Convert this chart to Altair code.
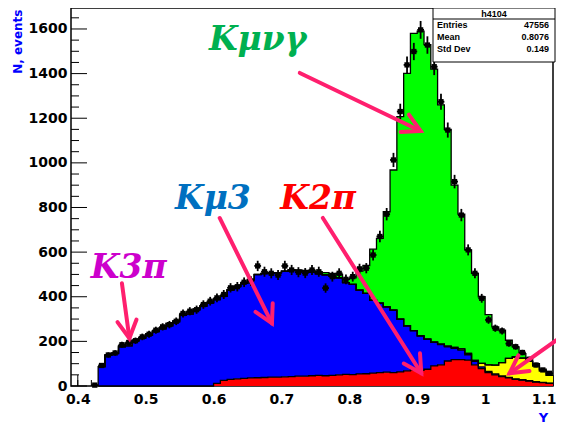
import math
import numpy as np
import pandas as pd
import altair as alt

# ---------------- data ----------------
bin_width = 0.01
bin_lo = [round(0.43 + 0.01 * i, 2) for i in range(67)]          # 0.43 ... 1.09
x_end = 1.10

red = [0] * 17 + [12, 25, 30, 32, 34, 36, 37, 38, 40, 40,
                  41, 42, 44, 44, 46, 48, 46, 48, 50, 52,
                  51, 54, 55, 58, 60, 62, 60, 63, 68, 72,
                  70, 75, 90, 95, 112, 118, 118, 116, 95, 78,
                  60, 50, 42, 36, 30, 26, 22, 18, 15, 12]
blue = [87, 137, 145, 175, 180, 201, 213, 227, 244, 256, 270, 288, 317, 322, 341, 357, 372,
        375, 377, 400, 414, 426, 440, 462, 466, 467, 467,
        473, 477, 473, 469, 463, 455, 452, 445, 435, 411,
        404, 376, 360, 327, 311, 293, 280, 237, 202, 176,
        155, 135, 106, 91, 64, 51, 43, 24, 15, 8,
        5, 4, 3, 3, 2, 2, 2, 1, 1, 1]
yellow = [0] * 50 + [2, 3, 4, 5, 6, 5, 15, 30, 40, 60, 85, 98, 97, 86, 71, 52, 35]
magenta = [0, 2, 3, 5, 12, 4, 5, 8, 4, 6, 10, 4, 5, 10, 4, 3, 3, 3, 3, 2, 2, 2, 2] + [1] * 10 + [0] * 34
green = [0] * 29 + [2, 4, 6, 8, 10, 12, 15, 15, 30, 85,
                    125, 228, 291, 426, 628, 907, 1131, 1332, 1365, 1320,
                    1224, 1072, 971, 727, 604, 464, 390, 299, 225, 171,
                    145, 81, 45, 20, 15, 10, 7, 7]

data_lo = [0.42] + bin_lo
data_counts = [4, 92, 139, 148, 185, 195, 203, 220, 232, 250, 265, 275, 290, 325, 335, 342, 365, 380,
               395, 410, 440, 445, 465, 470, 538, 512, 505, 497,
               538, 520, 510, 506, 520, 512, 439, 490, 505, 478,
               490, 525, 528, 587, 670, 770, 1013, 1230, 1439, 1499,
               1596, 1528, 1431, 1274, 1147, 916, 766, 610, 505, 393,
               296, 259, 247, 190, 176, 150, 120, 94, 72, 57]

series_names = ["K2pi", "Kmu3", "other", "K3pi", "Kmunugamma"]
series_colors = ["#ff0000", "#0000ff", "#ffff00", "#ff00ff", "#00ff00"]
series_vals = [red, blue, yellow, magenta, green]

# annotation labels (data coordinates)
label_text = ["Kμνγ", "Kμ3", "K2π", "K3π"]
label_x = [0.665, 0.599, 0.754, 0.475]
label_y = [1551, 838, 838, 529]
label_color = ["#00b050", "#0070c0", "#ff0000", "#cc00cc"]

# arrows (data coordinates): start -> tip
arrow_x0 = [0.727, 0.609, 0.761, 0.465, 1.116]
arrow_y0 = [1403, 753, 753, 460, 229]
arrow_x1 = [0.905, 0.686, 0.906, 0.476, 1.036]
arrow_y1 = [1143, 281, 57, 214, 57]
arrow_color = "#ff1f6e"

stat_names = ["Entries", "Mean", "Std Dev"]
stat_values = ["47556", "0.8076", "0.149"]
hist_name = "h4104"

x_labels = [0.4, 0.5, 0.6, 0.7, 0.8, 0.9, 1.0, 1.1]
y_labels = [0, 200, 400, 600, 800, 1000, 1200, 1400, 1600]

# ---------------- layout ----------------
W, H = 482, 378
X_DOM = [0.39, 1.10]
Y_DOM = [0, 1694]
xs = alt.Scale(domain=X_DOM, nice=False, zero=False)
ys = alt.Scale(domain=Y_DOM, nice=False, zero=False)

# ---------------- tables ----------------
n = len(bin_lo)
cum = np.zeros(n)
area_rows, line_rows = [], []
for name, vals in zip(series_names, series_vals):
    lo = cum.copy()
    hi = cum + np.array(vals, dtype=float)
    if name == series_names[-1]:
        line_rows.append(dict(s=name, x=bin_lo[0], y=0.0, i=-1))
    for i in range(n):
        area_rows.append(dict(s=name, x=bin_lo[i], y0=lo[i], y1=hi[i]))
        line_rows.append(dict(s=name, x=bin_lo[i], y=hi[i], i=i))
    area_rows.append(dict(s=name, x=x_end, y0=lo[-1], y1=hi[-1]))
    line_rows.append(dict(s=name, x=x_end, y=hi[-1], i=n))
    cum = hi
area_df = pd.DataFrame(area_rows)
line_df = pd.DataFrame(line_rows)

d = np.array(data_counts, dtype=float)
err = np.sqrt(d)
data_df = pd.DataFrame(dict(lo=data_lo, hi=[v + bin_width for v in data_lo],
                            xc=[v + bin_width / 2 for v in data_lo],
                            d=d, elo=d - err, ehi=d + err))

sx = W / (X_DOM[1] - X_DOM[0])
sy = H / (Y_DOM[1] - Y_DOM[0])
angs = []
for a, b, c, e in zip(arrow_x0, arrow_y0, arrow_x1, arrow_y1):
    dx = (c - a) * sx
    dy = -(e - b) * sy
    angs.append((math.degrees(math.atan2(dy, dx)) - 90) % 360)
arrow_df = pd.DataFrame(dict(x0=arrow_x0, y0=arrow_y0, x1=arrow_x1, y1=arrow_y1, ang=angs))
label_df = pd.DataFrame(dict(t=label_text, x=label_x, y=label_y, c=label_color))

y_major = pd.DataFrame(dict(v=y_labels))
y_minor = pd.DataFrame(dict(v=[v for v in range(0, 1700, 50) if v % 200 != 0]))
x_major = pd.DataFrame(dict(v=x_labels))
x_minor = pd.DataFrame(dict(v=[round(0.40 + 0.02 * i, 2) for i in range(36)]))

# ---------------- axes (identical in every layer so they merge) ----------------
XA = alt.Axis(values=x_labels, format="~g", ticks=False, domain=False, grid=False,
              labelFont="DejaVu Sans", labelFontWeight="bold", labelFontSize=14,
              labelColor="black", labelPadding=6, labelFlush=2, labelFlushOffset=3,
              labelOverlap=False,
              title="Y", titleColor="#0000ff", titleFont="DejaVu Sans", titleFontWeight="bold",
              titleFontSize=13, titleX=472, titleY=31, titleAlign="center", titleBaseline="middle")
YA = alt.Axis(values=y_labels, format="d", ticks=False, domain=False, grid=False,
              labelFont="DejaVu Sans", labelFontWeight="bold", labelFontSize=14,
              labelColor="black", labelPadding=4, labelOverlap=False,
              title="N, events", titleColor="#0000ff", titleFont="DejaVu Sans",
              titleFontWeight="bold", titleFontSize=12, titleAngle=270, titleX=-54, titleY=1,
              titleAlign="right", titleBaseline="middle")


def X(f):
    return alt.X(f, scale=xs, axis=XA, title="Y")


def Y(f, **kw):
    return alt.Y(f, scale=ys, axis=YA, title="N, events", **kw)


ytick_major = alt.Chart(y_major).mark_rule(color="black", strokeWidth=1).encode(
    y=Y("v:Q"), x=alt.value(0), x2=alt.value(16))
ytick_minor = alt.Chart(y_minor).mark_rule(color="black", strokeWidth=1).encode(
    y=Y("v:Q"), x=alt.value(0), x2=alt.value(8))
xtick_major = alt.Chart(x_major).mark_rule(color="black", strokeWidth=1).encode(
    x=X("v:Q"), y=alt.value(H), y2=alt.value(H - 11))
xtick_minor = alt.Chart(x_minor).mark_rule(color="black", strokeWidth=1).encode(
    x=X("v:Q"), y=alt.value(H), y2=alt.value(H - 6))

areas = alt.Chart(area_df).mark_area(interpolate="step-after", opacity=1).encode(
    x=X("x:Q"),
    y=Y("y1:Q", stack=None),
    y2="y0:Q",
    color=alt.Color("s:N", scale=alt.Scale(domain=series_names, range=series_colors), legend=None),
)
outlines = alt.Chart(line_df).mark_line(interpolate="step-after", color="black", strokeWidth=1.3).encode(
    x=X("x:Q"), y=Y("y:Q"), detail="s:N", order="i:Q")

ebar_v = alt.Chart(data_df).mark_rule(color="black", strokeWidth=1.8).encode(
    x=X("xc:Q"), y=Y("elo:Q"), y2="ehi:Q")
ebar_h = alt.Chart(data_df).mark_rule(color="black", strokeWidth=1.8).encode(
    x=X("lo:Q"), x2="hi:Q", y=Y("d:Q"))
markers = alt.Chart(data_df).mark_square(color="black", size=28, opacity=1).encode(
    x=X("xc:Q"), y=Y("d:Q"))

shafts = alt.Chart(arrow_df).mark_rule(color=arrow_color, strokeWidth=4, strokeCap="round").encode(
    x=X("x0:Q"), y=Y("y0:Q"), x2="x1:Q", y2="y1:Q")
heads = alt.Chart(arrow_df).mark_point(
    shape="M -0.6 -1.1 L 0 0 L 0.6 -1.1", filled=False, color=arrow_color,
    strokeWidth=4, size=1024, opacity=1, strokeCap="round", strokeJoin="miter").encode(
    x=X("x1:Q"), y=Y("y1:Q"), angle=alt.Angle("ang:Q", scale=None))

labels = alt.Chart(label_df).mark_text(
    font="DejaVu Serif", fontSize=33, fontStyle="italic", fontWeight="bold",
    align="center", baseline="middle").encode(
    x=X("x:Q"), y=Y("y:Q"), text="t:N", color=alt.Color("c:N", scale=None))

one = pd.DataFrame({"a": [0]})
box = alt.Chart(one).mark_rect(fill="white", stroke="black", strokeWidth=1).encode(
    x=alt.value(362), x2=alt.value(484), y=alt.value(0), y2=alt.value(54))
box_sep = alt.Chart(one).mark_rule(color="black", strokeWidth=1).encode(
    x=alt.value(362), x2=alt.value(484), y=alt.value(11))
box_layers = [box, box_sep,
              alt.Chart(one).mark_text(text=hist_name, font="Liberation Sans", fontWeight="bold",
                                       fontSize=9, align="center", baseline="middle").encode(
                  x=alt.value(423), y=alt.value(5.5))]
for j, (nm, vv) in enumerate(zip(stat_names, stat_values)):
    yy = 17 + 12 * j
    box_layers.append(alt.Chart(one).mark_text(text=nm, font="Liberation Sans", fontWeight="bold",
                                               fontSize=9, align="left", baseline="middle").encode(
        x=alt.value(366), y=alt.value(yy)))
    box_layers.append(alt.Chart(one).mark_text(text=vv, font="Liberation Sans", fontWeight="bold",
                                               fontSize=9, align="right", baseline="middle").encode(
        x=alt.value(478), y=alt.value(yy)))

chart = alt.layer(
    ytick_major, ytick_minor, xtick_major, xtick_minor,
    areas, outlines, ebar_v, ebar_h, markers,
    shafts, heads, labels, *box_layers,
).properties(
    width=W, height=H,
    padding={"left": 63, "top": 0, "right": 3, "bottom": 40},
    autosize=alt.AutoSizeParams(type="none"),
    background="white",
).configure_view(stroke="black", strokeWidth=1.5)

chart.save("out.html", embed_options={"renderer": "svg", "actions": False})
